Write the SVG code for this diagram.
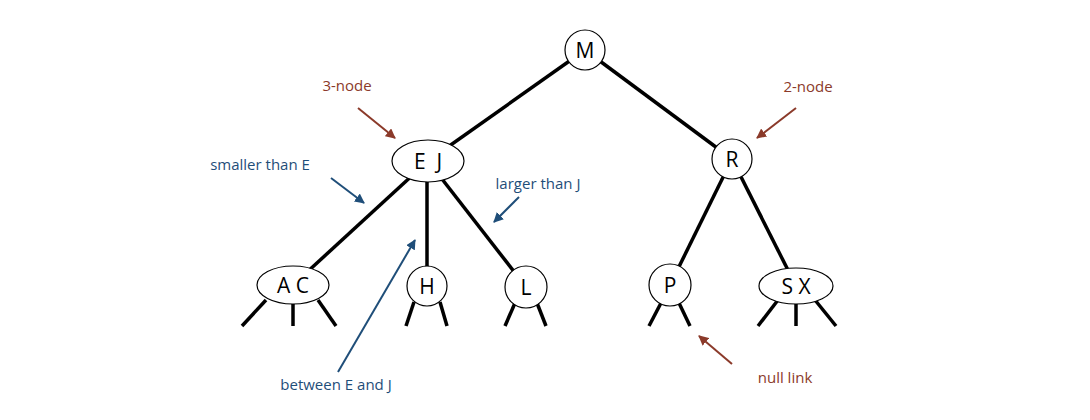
<svg xmlns="http://www.w3.org/2000/svg" width="1090" height="420" viewBox="0 0 1090 420">
<style>
.e{stroke:#000;stroke-width:3.5;fill:none}
.n{fill:#fff;stroke:#000;stroke-width:1.2}
.t{font-family:"Open Sans","DejaVu Sans",sans-serif;font-size:21px;text-anchor:middle;fill:#000}
.r{font-family:"Open Sans","DejaVu Sans",sans-serif;font-size:15px;text-anchor:middle;fill:#8B3A2A}
.b{font-family:"Open Sans","DejaVu Sans",sans-serif;font-size:15px;text-anchor:middle;fill:#1F4E79}
.ar{stroke:#8B3A2A;stroke-width:2;fill:none;marker-end:url(#mr)}
.ab{stroke:#1F4E79;stroke-width:2;fill:none;marker-end:url(#mb)}
</style>
<defs>
<marker id="mr" viewBox="0 0 10 10" refX="9" refY="5" markerWidth="5" markerHeight="5" orient="auto"><path d="M0,0L10,5L0,10z" fill="#8B3A2A"/></marker>
<marker id="mb" viewBox="0 0 10 10" refX="9" refY="5" markerWidth="5" markerHeight="5" orient="auto"><path d="M0,0L10,5L0,10z" fill="#1F4E79"/></marker>
</defs>
<rect width="1090" height="420" fill="#fff"/>
<g id="connectors">
<line class="e" x1="585" y1="50" x2="428" y2="161"/>
<line class="e" x1="585" y1="50" x2="732" y2="159"/>
<line class="e" x1="428" y1="161" x2="293" y2="285"/>
<line class="e" x1="427" y1="161" x2="427" y2="286"/>
<line class="e" x1="428" y1="161" x2="526" y2="287"/>
<line class="e" x1="732" y1="159" x2="670" y2="285"/>
<line class="e" x1="732" y1="159" x2="796" y2="286"/>
<line class="e" x1="266" y1="300" x2="242" y2="326"/>
<line class="e" x1="293" y1="304" x2="293" y2="326"/>
<line class="e" x1="318" y1="300" x2="336" y2="326"/>
<line class="e" x1="414" y1="302" x2="406" y2="326"/>
<line class="e" x1="440" y1="302" x2="447" y2="326"/>
<line class="e" x1="515" y1="303" x2="505" y2="326"/>
<line class="e" x1="537" y1="303" x2="546" y2="326"/>
<line class="e" x1="661" y1="303" x2="649" y2="326"/>
<line class="e" x1="679" y1="303" x2="690" y2="326"/>
<line class="e" x1="778" y1="300" x2="758" y2="326"/>
<line class="e" x1="796" y1="304" x2="796" y2="326"/>
<line class="e" x1="815" y1="300" x2="836" y2="326"/>
</g>
<g id="M"><circle class="n" cx="585" cy="50" r="20"/><text class="t" x="585" y="58">M</text></g>
<g id="EJ"><ellipse class="n" cx="428" cy="161" rx="36" ry="21"/><text class="t" x="428" y="169" xml:space="preserve">E  J</text></g>
<g id="R"><circle class="n" cx="732" cy="159" r="20"/><text class="t" x="732" y="167">R</text></g>
<g id="AC"><ellipse class="n" cx="293" cy="285" rx="36" ry="19"/><text class="t" x="293" y="293">A C</text></g>
<g id="H"><circle class="n" cx="427" cy="286" r="20"/><text class="t" x="427" y="294">H</text></g>
<g id="L"><circle class="n" cx="526" cy="287" r="21"/><text class="t" x="526" y="295">L</text></g>
<g id="P"><circle class="n" cx="670" cy="285" r="21"/><text class="t" x="670" y="293">P</text></g>
<g id="SX"><ellipse class="n" cx="796" cy="286" rx="37" ry="18"/><text class="t" x="796" y="294">S X</text></g>
<g id="labels">
<text class="r" x="347" y="91">3-node</text>
<line class="ar" x1="358" y1="108" x2="395" y2="138"/>
<text class="r" x="808" y="92">2-node</text>
<line class="ar" x1="796" y1="108" x2="757" y2="138"/>
<text class="b" x="260" y="170">smaller than E</text>
<line class="ab" x1="331" y1="178" x2="364" y2="203"/>
<text class="b" x="538" y="189">larger than J</text>
<line class="ab" x1="519" y1="197" x2="494" y2="222"/>
<text class="b" x="336" y="390">between E and J</text>
<line class="ab" x1="338" y1="372" x2="415" y2="240"/>
<text class="r" x="785" y="383">null link</text>
<line class="ar" x1="732" y1="364" x2="699" y2="336"/>
</g>
</svg>
